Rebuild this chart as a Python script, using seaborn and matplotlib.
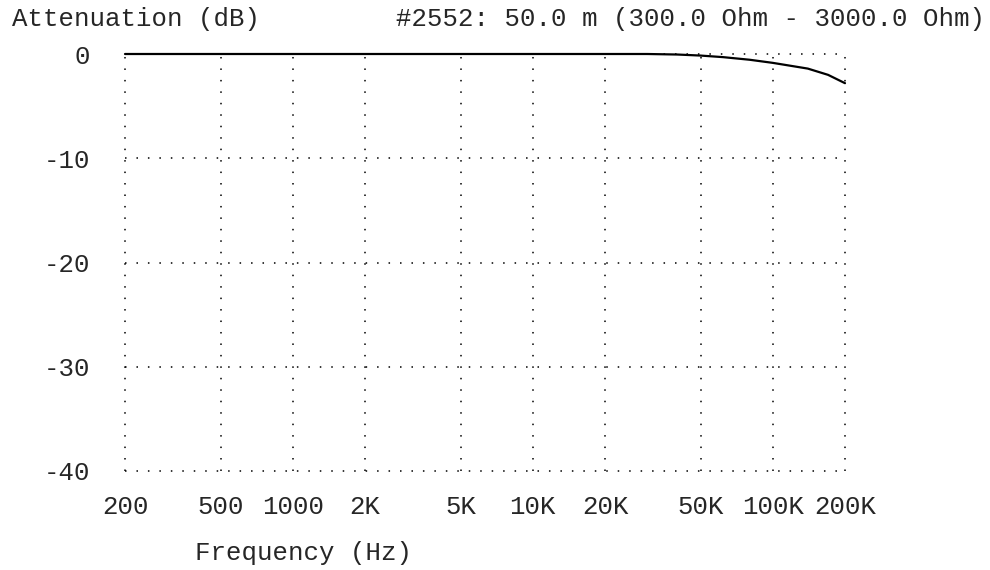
import matplotlib
matplotlib.use("Agg")
import matplotlib.pyplot as plt
import seaborn as sns
import pandas as pd

# Cable attenuation curve
freq_hz = [200, 500, 1000, 2000, 5000, 10000, 20000, 30000, 40000,
           50000, 62000, 80000, 100000, 140000, 170000, 200000]
atten_db = [0, 0, 0, 0, 0, 0, 0, 0, -0.05,
            -0.15, -0.3, -0.55, -0.85, -1.4, -2.0, -2.8]

x_ticks = [200, 500, 1000, 2000, 5000, 10000, 20000, 50000, 100000, 200000]
x_labels = ["200", "500", "1000", "2K", "5K", "10K", "20K", "50K", "100K", "200K"]
y_ticks = [0, -10, -20, -30, -40]

df = pd.DataFrame({"freq": freq_hz, "att": atten_db})

sns.set_style("white")
plt.rcParams["font.family"] = ["Liberation Mono", "DejaVu Sans Mono"]
fs = 18.5

fig = plt.figure(figsize=(9.9, 5.7), dpi=100)
ax = fig.add_axes([125 / 990, 99 / 570, 720 / 990, 417 / 570])

ax.set_xscale("log")
ax.set_xlim(200, 200000)
ax.set_ylim(-40, 0)

# dotted grid
for xv in x_ticks:
    ax.axvline(xv, color="black", lw=1.1, ls=(0, (1, 6.5)), zorder=1, clip_on=False)
for yv in y_ticks:
    ax.axhline(yv, color="black", lw=1.1, ls=(0, (1, 6.5)), zorder=1, clip_on=False)

sns.lineplot(data=df, x="freq", y="att", ax=ax, color="black", lw=1.6,
             zorder=3, clip_on=False)

ax.set_xticks(x_ticks)
ax.set_xticklabels(x_labels, fontsize=fs)
ax.minorticks_off()
ax.set_yticks(y_ticks)
ax.set_yticklabels([str(v) for v in y_ticks], fontsize=fs)
ax.tick_params(axis="x", length=0, pad=17)
ax.tick_params(axis="y", length=0, pad=25)
ax.set_xlabel("")
ax.set_ylabel("")
for s in ax.spines.values():
    s.set_visible(False)

fig.text(12 / 990, 1 - 19 / 570, "Attenuation (dB)", fontsize=fs,
         ha="left", va="center")
fig.text(985 / 990, 1 - 19 / 570, "#2552: 50.0 m (300.0 Ohm - 3000.0 Ohm)",
         fontsize=fs, ha="right", va="center")
fig.text(195 / 990, 1 - 553 / 570, "Frequency (Hz)", fontsize=fs,
         ha="left", va="center")

fig.savefig("out.png", dpi=100)
